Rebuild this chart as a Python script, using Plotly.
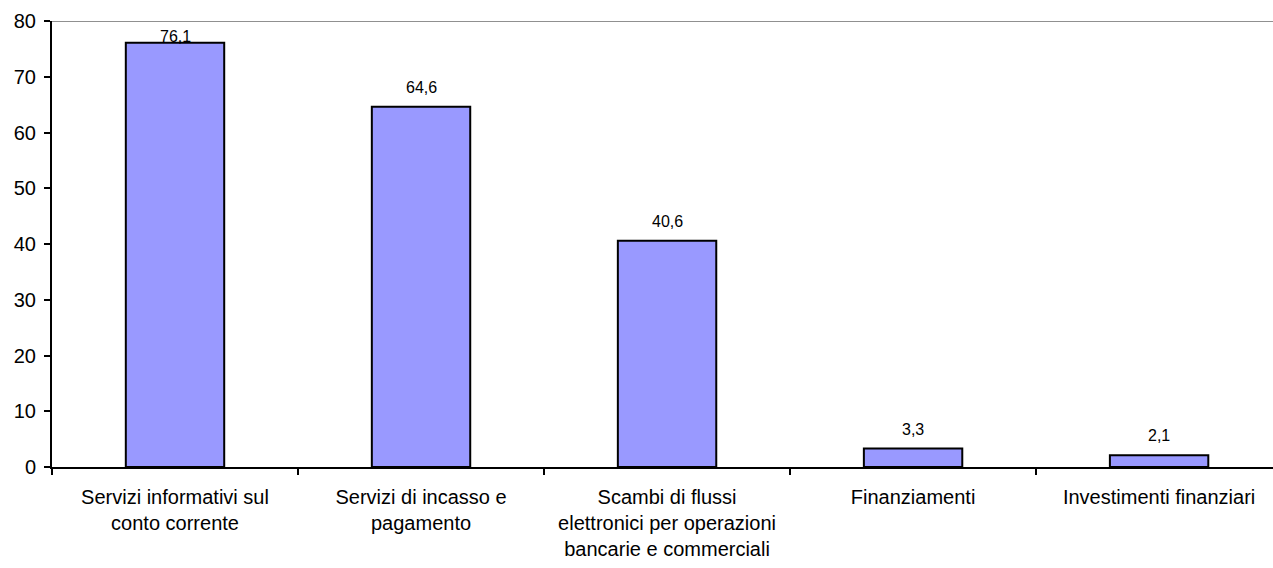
import plotly.graph_objects as go

categories = [
    "Servizi informativi sul<br>conto corrente",
    "Servizi di incasso e<br>pagamento",
    "Scambi di flussi<br>elettronici per operazioni<br>bancarie e commerciali",
    "Finanziamenti",
    "Investimenti finanziari",
]
values = [76.1, 64.6, 40.6, 3.3, 2.1]
labels = [f"{v:.1f}".replace(".", ",") for v in values]
y_ticks = [0, 10, 20, 30, 40, 50, 60, 70, 80]

FONT = "Liberation Sans, Arial"

fig = go.Figure()
fig.add_trace(go.Bar(
    x=categories, y=values,
    marker=dict(color="#9999FF", line=dict(color="black", width=2)),
    width=0.4, cliponaxis=False,
))

for c, v, t in zip(categories, values, labels):
    shift = -4 if v > 74 else 9
    fig.add_annotation(x=c, y=v, text=t, showarrow=False, yanchor="bottom",
                       yshift=shift, font=dict(family=FONT, size=16, color="black"))

fig.add_shape(type="line", xref="paper", yref="y", x0=0, x1=1, y0=80, y1=80,
              line=dict(color="#909090", width=2), layer="below")

fig.update_layout(
    width=1273, height=568,
    margin=dict(l=52, r=0, t=21, b=101),
    paper_bgcolor="white", plot_bgcolor="white",
    showlegend=False,
    font=dict(family=FONT, size=20, color="black"),
    separators=",.",
)
fig.update_xaxes(
    type="category", range=[-0.5, 4.463],
    showline=True, linecolor="black", linewidth=2,
    ticks="outside", tickson="boundaries", ticklen=6, tickcolor="black", tickwidth=1.5,
    showgrid=False, tickfont=dict(size=20), ticklabelstandoff=11,
)
fig.update_yaxes(
    range=[0, 80], tickvals=y_ticks,
    showline=True, linecolor="black", linewidth=2,
    ticks="outside", ticklen=6, tickcolor="black", tickwidth=1.5,
    showgrid=False, zeroline=False, tickfont=dict(size=20), ticklabelstandoff=4,
)

fig.write_html("out.html")
